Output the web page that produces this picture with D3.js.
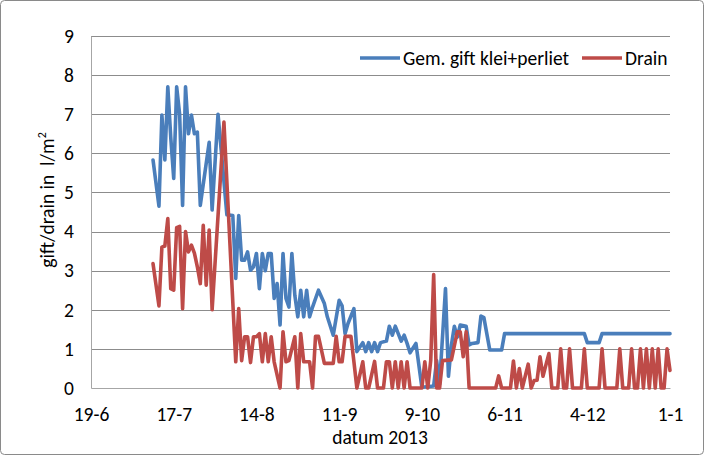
<!DOCTYPE html>
<html>
<head>
<meta charset="utf-8">
<script src="https://cdn.jsdelivr.net/npm/d3@7/dist/d3.min.js"></script>
<style>
  html, body { margin: 0; padding: 0; background: #fff; }
  svg { display: block; font-family: Carlito, Calibri, Lato, sans-serif; }
</style>
</head>
<body>
<svg id="chart" width="705" height="456"></svg>
<script>
// Series: gift (blue) and drain (red), vertices
var giftDates = [
  "2013-07-10","2013-07-12","2013-07-13","2013-07-14","2013-07-15","2013-07-16","2013-07-17","2013-07-18",
  "2013-07-19","2013-07-20","2013-07-21","2013-07-22","2013-07-23","2013-07-24","2013-07-25","2013-07-26",
  "2013-07-29","2013-07-30","2013-08-01","2013-08-04","2013-08-06","2013-08-07","2013-08-08","2013-08-09",
  "2013-08-10","2013-08-11","2013-08-12","2013-08-13","2013-08-14","2013-08-15","2013-08-16","2013-08-17",
  "2013-08-18","2013-08-19","2013-08-20","2013-08-21","2013-08-22","2013-08-23","2013-08-24","2013-08-25",
  "2013-08-26","2013-08-27","2013-08-28","2013-08-29","2013-08-30","2013-08-31","2013-09-01","2013-09-02",
  "2013-09-04","2013-09-06","2013-09-07","2013-09-09","2013-09-11","2013-09-12","2013-09-13","2013-09-14",
  "2013-09-16","2013-09-17","2013-09-19","2013-09-20","2013-09-21","2013-09-22","2013-09-23","2013-09-24",
  "2013-09-25","2013-09-27","2013-09-28","2013-09-29","2013-09-30","2013-10-02","2013-10-03","2013-10-04",
  "2013-10-05","2013-10-07","2013-10-09","2013-10-13","2013-10-14","2013-10-15","2013-10-17","2013-10-18",
  "2013-10-19","2013-10-20","2013-10-21","2013-10-22","2013-10-24","2013-10-25","2013-10-26","2013-10-28",
  "2013-10-29","2013-10-30","2013-11-01","2013-11-05","2013-11-06","2013-12-03","2013-12-04","2013-12-08",
  "2013-12-09","2014-01-01"
];
var giftValues = [
  5.83, 4.65, 6.98, 5.83, 7.7, 6.4, 5.36, 7.7,
  7.0, 4.67, 7.7, 6.5, 6.98, 6.5, 6.54, 4.67,
  6.28, 4.55, 7.0, 4.43, 4.41, 2.8, 4.41, 3.27,
  3.27, 3.48, 3.01, 3.1, 3.44, 2.54, 3.44, 3.0,
  3.44, 3.44, 2.29, 2.67, 1.61, 3.44, 2.29, 2.07,
  3.44, 2.37, 1.82, 2.5, 1.82, 2.5, 1.82, 2.07,
  2.5, 2.16, 1.82, 1.35, 2.24, 2.1, 1.39, 1.65,
  2.03, 0.93, 1.16, 0.93, 1.16, 0.93, 1.16, 0.93,
  1.16, 1.2, 1.58, 1.35, 1.58, 1.2, 1.35, 1.14,
  0.9, 1.14, 0.02, 0.05, 0.7, 0.1, 2.54, 0.3,
  1.1, 1.58, 1.3, 1.61, 1.58, 1.1, 1.14, 1.16,
  1.84, 1.8, 0.97, 0.97, 1.39, 1.39, 1.16, 1.16,
  1.39, 1.39
];

var drainDates = [
  "2013-07-10","2013-07-12","2013-07-13","2013-07-14","2013-07-15","2013-07-16","2013-07-17","2013-07-18",
  "2013-07-19","2013-07-20","2013-07-21","2013-07-22","2013-07-23","2013-07-24","2013-07-25","2013-07-26",
  "2013-07-27","2013-07-28","2013-07-29","2013-07-30","2013-08-03","2013-08-07","2013-08-08","2013-08-09",
  "2013-08-10","2013-08-11","2013-08-12","2013-08-13","2013-08-14","2013-08-15","2013-08-16","2013-08-17",
  "2013-08-18","2013-08-19","2013-08-20","2013-08-22","2013-08-23","2013-08-24","2013-08-25","2013-08-27",
  "2013-08-28","2013-08-29","2013-08-30","2013-09-01","2013-09-02","2013-09-03","2013-09-04","2013-09-06",
  "2013-09-09","2013-09-10","2013-09-11","2013-09-12","2013-09-13","2013-09-15","2013-09-16","2013-09-17",
  "2013-09-19","2013-09-20","2013-09-21","2013-09-23","2013-09-24","2013-09-26","2013-09-27","2013-09-28",
  "2013-09-29","2013-09-30","2013-10-01","2013-10-02","2013-10-03","2013-10-04","2013-10-05","2013-10-09",
  "2013-10-10","2013-10-11","2013-10-12","2013-10-13","2013-10-14","2013-10-15","2013-10-16","2013-10-19",
  "2013-10-21","2013-10-22","2013-10-23","2013-10-24","2013-10-25","2013-11-03","2013-11-04","2013-11-05",
  "2013-11-08","2013-11-09","2013-11-10","2013-11-11","2013-11-12","2013-11-14","2013-11-15","2013-11-16",
  "2013-11-17","2013-11-18","2013-11-19","2013-11-21","2013-11-22","2013-11-24","2013-11-25","2013-11-26",
  "2013-11-27","2013-11-28","2013-11-29","2013-12-02","2013-12-03","2013-12-04","2013-12-08","2013-12-09",
  "2013-12-10","2013-12-14","2013-12-15","2013-12-16","2013-12-18","2013-12-19","2013-12-20","2013-12-21",
  "2013-12-22","2013-12-23","2013-12-24","2013-12-25","2013-12-26","2013-12-27","2013-12-28","2013-12-29",
  "2013-12-30","2013-12-31","2014-01-01"
];
var drainValues = [
  3.18, 2.1, 3.6, 3.63, 4.33, 2.54, 2.5, 4.1,
  4.13, 2.03, 4.0, 3.48, 3.65, 3.45, 3.1, 2.67,
  4.16, 2.63, 4.04, 2.0, 6.8, 0.67, 2.03, 0.7,
  1.31, 1.31, 0.65, 1.31, 1.31, 1.39, 0.67, 1.39,
  0.67, 1.31, 0.67, 0, 1.44, 0.67, 0.7, 1.31,
  0, 1.39, 0.67, 0.67, 0, 1.32, 1.32, 0.63,
  0.63, 1.32, 0.67, 0.67, 1.32, 1.32, 0.67, 0,
  0.67, 0, 0, 0.68, 0, 0, 0.67, 0.67,
  0, 0.67, 0, 0.67, 0, 0.67, 0, 0,
  0.67, 0, 0.7, 2.9, 0, 0, 0.7, 0.72,
  1.44, 1.44, 0.8, 1.44, 0, 0, 0.31, 0,
  0, 0.69, 0, 0.5, 0, 0.61, 0, 0.19,
  0.2, 0.8, 0.3, 0.88, 0, 0, 1.0, 0,
  0, 1.0, 0, 0, 1.0, 0, 0, 1.0,
  0, 0, 1.0, 0, 0, 1.0, 0, 0,
  1.0, 0, 1.0, 0, 1.0, 0, 1.0, 0,
  0, 1.0, 0.45
];

var xTickDates = ["2013-06-19","2013-07-17","2013-08-14","2013-09-11","2013-10-09","2013-11-06","2013-12-04","2014-01-01"];
var yTicks = [0, 1, 2, 3, 4, 5, 6, 7, 8, 9];
var seriesNames = ["Gem. gift klei+perliet", "Drain"];
var seriesColors = ["#4A7EBB", "#BE4B48"];

var FONT = "Carlito, Calibri, Lato, sans-serif";
var FS = 19.5;

var parse = d3.timeParse("%Y-%m-%d");
var svg = d3.select("#chart");

// outer chart border
svg.append("rect")
  .attr("x", 0.5).attr("y", 0.5).attr("width", 703).attr("height", 454)
  .attr("rx", 4).attr("fill", "#fff").attr("stroke", "#8a8a8a");

var plotLeft = 91, plotRight = 670, plotTop = 36, plotBottom = 388;

var x = d3.scaleTime()
  .domain([parse(xTickDates[0]), parse(xTickDates[xTickDates.length - 1])])
  .range([plotLeft, plotRight]);
var y = d3.scaleLinear().domain([0, 9]).range([plotBottom, plotTop]);

// gridlines
svg.append("g")
  .selectAll("line").data(yTicks.slice(1)).enter().append("line")
  .attr("x1", plotLeft).attr("x2", plotRight)
  .attr("y1", d => Math.round(y(d)) + 0.5).attr("y2", d => Math.round(y(d)) + 0.5)
  .attr("stroke", "#8c8c8c").attr("stroke-width", 1);

// y axis
var yAxis = svg.append("g")
  .attr("transform", "translate(" + plotLeft + ",0)")
  .call(d3.axisLeft(y).tickValues(yTicks).tickSize(0).tickPadding(17));
yAxis.select(".domain").attr("stroke", "#a6a6a6");
yAxis.selectAll("text").attr("font-size", FS).attr("fill", "#000").attr("font-family", FONT);

// x axis
var xAxis = svg.append("g")
  .attr("transform", "translate(0," + plotBottom + ")")
  .call(d3.axisBottom(x).tickValues(xTickDates.map(parse))
    .tickFormat(d3.timeFormat("%-d-%-m")).tickSize(0).tickPadding(19));
xAxis.select(".domain").attr("stroke", "#a6a6a6");
xAxis.selectAll("text").attr("font-size", FS).attr("fill", "#000").attr("font-family", FONT);

// lines
var line = d3.line().x(d => x(d.date)).y(d => y(d.value));
var giftData = giftDates.map((d, i) => ({ date: parse(d), value: giftValues[i] }));
var drainData = drainDates.map((d, i) => ({ date: parse(d), value: drainValues[i] }));

[giftData, drainData].forEach(function(data, i) {
  svg.append("path")
    .datum(data)
    .attr("d", line)
    .attr("fill", "none")
    .attr("stroke", seriesColors[i])
    .attr("stroke-width", 3.6)
    .attr("stroke-linejoin", "round")
    .attr("stroke-linecap", "round");
});

// axis titles
svg.append("text")
  .attr("x", 380).attr("y", 444)
  .attr("text-anchor", "middle").attr("font-size", FS)
  .text("datum 2013");

var yt = svg.append("text")
  .attr("transform", "translate(54,200) rotate(-90)")
  .attr("text-anchor", "middle").attr("font-size", FS);
yt.append("tspan").text("gift/drain in\u00a0\u00a0l/m");
yt.append("tspan").attr("font-size", 12).attr("dy", -8).text("2");

// legend
var legendX = [360, 582];
seriesNames.forEach(function(name, i) {
  var g = svg.append("g").attr("transform", "translate(" + legendX[i] + ",58)");
  g.append("line").attr("x1", 0).attr("x2", 40)
    .attr("stroke", seriesColors[i]).attr("stroke-width", 3.6);
  g.append("text").attr("x", 43).attr("y", 7).attr("font-size", FS).text(name);
});
</script>
</body>
</html>
